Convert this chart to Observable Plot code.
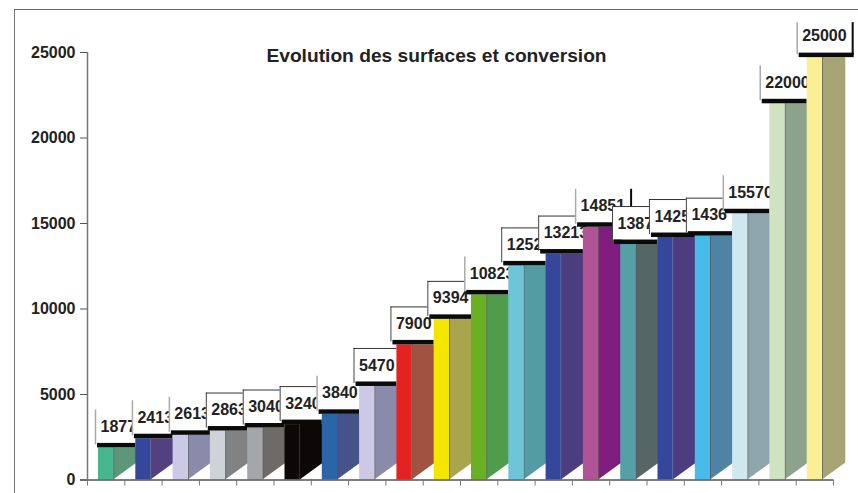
<!DOCTYPE html>
<html>
<head>
<meta charset="utf-8">
<script src="https://cdn.jsdelivr.net/npm/d3@7"></script>
<script src="https://cdn.jsdelivr.net/npm/@observablehq/plot@0.6"></script>
<style>
html,body{margin:0;padding:0;background:#fff;}
#frame{position:absolute;left:14px;top:9px;right:0;bottom:0;border-left:1.5px solid #777;border-top:1.5px solid #666;}
#chart{position:absolute;left:0;top:0;}
svg{display:block;}
</style>
</head>
<body>
<div id="frame"></div>
<div id="chart"></div>
<script>
const title = "Evolution des surfaces et conversion";
const labels = ["1877","2413","2613","2863","3040","3240","3840","5470","7900","9394","10823","1252","13213","14851","1387","1425","1436","15570","22000","25000"];
const heights = [1877,2413,2613,2863,3040,3240,3840,5470,7900,9394,10823,12520,13213,14780,13770,14180,14260,15570,22000,24700];
const frontColors = ["#48b78f","#34479a","#cbc9e6","#cdd3d6","#a4a6aa","#0c0807","#2b65a8","#cbc9e6","#e42320","#f5e600","#6ab023","#6fc5d8","#34479a","#b05496","#55a0a6","#34479a","#47bce8","#d0e7ef","#cfe3c3","#fbef96"];
const sideColors = ["#5d9678","#53417f","#8a8bab","#828282","#6e6a67","#0c0807","#46528a","#8a8bab","#a1533f","#a9a54d","#4f9c4a","#539ca3","#4c3d80","#7f1d7f","#566664","#4c3d80","#4f83a4","#8fa5ac","#8da28a","#a7a474"];
const boxHasTop = [0,0,0,1,1,1,0,1,1,1,0,1,1,0,1,1,1,0,0,0];
const boxHasShadow = [0,0,0,0,0,0,0,0,0,0,0,0,0,1,0,0,0,0,0,1];
const yTicks = [0,5000,10000,15000,20000,25000];

const px = 1/37.3;          // one page pixel in x-scale units
const py = 25000/427.5;     // one page pixel in y-scale units
const fL = 11/37.3, fR = 26.2/37.3, sR = 49.6/37.3;
const lift = 17*py;

const barMarks = labels.flatMap((label,i) => {
  const h = heights[i], x0 = i+fL, xm = i+fR;
  const left = x0 - (3 + 0.37*i)*px;
  const right = boxHasShadow[i] ? left + 57*px : i+1+fL;
  const bandTop = h + 4.5*py, boxTop = h + (i===19?35:38)*py;
  const marks = [
    Plot.area([[xm,0],[i+sR,lift]], {x1:d=>d[0], y1:d=>d[1], y2:()=>h, fill:sideColors[i]}),
    Plot.ruleX([xm], {y1:0, y2:h, stroke:i===5 ? sideColors[i] : "#555", strokeWidth:1, strokeOpacity:0.7}),
    Plot.rect([h], {x1:x0, x2:xm, y1:0, y2:h, fill:frontColors[i]}),
    Plot.rect([h], {x1:left, x2:right, y1:bandTop, y2:boxTop, fill:"#fff"}),
    Plot.rect([h], {x1:left+2*px, x2:right, y1:h, y2:bandTop, fill:"#0a0a0a"}),
    Plot.ruleX([left], {y1:h+3*py, y2:boxTop, stroke: boxHasTop[i] ? "#444" : "#aaa", strokeWidth: boxHasTop[i] ? 1 : 1.5})
  ];
  if (boxHasTop[i]) marks.push(Plot.ruleY([boxTop], {x1:left, x2:right, stroke:"#333", strokeWidth:1}));
  if (boxHasShadow[i]) marks.push(Plot.rect([h], {x1:right-2*px, x2:right, y1:h+2*py, y2:boxTop, fill:"#0a0a0a"}));
  marks.push(Plot.text([label], {
    x:left+5*px, y:h + (i===19?21.5:21)*py, text:d=>d, textAnchor:"start",
    fontSize:16, fontWeight:"bold", fill:"#222", fontFamily:"Liberation Sans"
  }));
  return marks;
});

const chart = Plot.plot({
  width:858, height:493,
  marginLeft:87, marginRight:25, marginTop:52, marginBottom:13.5,
  style:{background:"transparent", fontFamily:"Liberation Sans"},
  x:{domain:[0,20], axis:null},
  y:{domain:[0,25000], axis:null},
  marks:[
    barMarks,
    Plot.ruleY([0], {x1:-7*px, x2:20, stroke:"#555", strokeWidth:1.5}),
    Plot.ruleX([0], {y1:0, y2:25000, stroke:"#777", strokeWidth:1.5}),
    Plot.axisY({ticks:yTicks, tickSize:7, tickPadding:5, label:null, tickFormat:d=>String(d),
      fontSize:16, fontWeight:"bold", color:"#222", stroke:"#555", fontFamily:"Liberation Sans"}),
    Plot.axisX({ticks:d3.range(0,21), tickSize:6, tickFormat:()=>"", label:null, stroke:"#777"}),
    Plot.text([title], {x:(436-87)*px, y:25000-3*py, text:d=>d, fontSize:19.2, fontWeight:"bold", fill:"#222", fontFamily:"Liberation Sans"})
  ]
});
document.getElementById("chart").appendChild(chart);
</script>
</body>
</html>
